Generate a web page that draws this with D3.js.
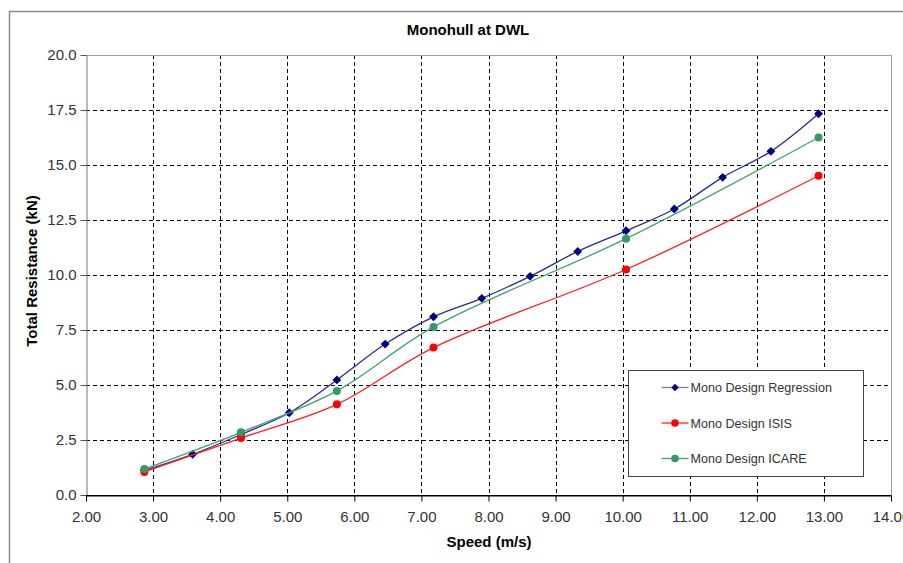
<!DOCTYPE html>
<html>
<head>
<meta charset="utf-8">
<script src="https://cdn.jsdelivr.net/npm/d3@7"></script>
<style>
	body { margin: 0; background: #fff; }
	svg { display: block; font-family: "Liberation Sans", Arial, sans-serif; }
</style>
</head>
<body>
<div id="chart"></div>
<script>
// speeds (m/s) and resistances (kN)
var regSpeed = [2.87, 3.59, 4.31, 5.03, 5.74, 6.46, 7.18, 7.90, 8.62, 9.33, 10.05, 10.77, 11.49, 12.21, 12.92];
var regRes   = [1.12, 1.85, 2.75, 3.74, 5.23, 6.86, 8.10, 8.94, 9.94, 11.07, 12.01, 13.00, 14.44, 15.62, 17.33];
var isisSpeed = [2.87, 4.31, 5.74, 7.18, 10.05, 12.92];
var isisRes   = [1.05, 2.59, 4.12, 6.70, 10.25, 14.51];
var icareSpeed = [2.87, 4.31, 5.74, 7.18, 10.05, 12.92];
var icareRes   = [1.18, 2.85, 4.73, 7.64, 11.65, 16.25];
var xTicks = [2, 3, 4, 5, 6, 7, 8, 9, 10, 11, 12, 13, 14];
var yTicks = [0, 2.5, 5, 7.5, 10, 12.5, 15, 17.5, 20];

var series = [
	{name: "Mono Design Regression", color: "#000080", line: "#2b2b8c", marker: "diamond", x: regSpeed, y: regRes},
	{name: "Mono Design ISIS", color: "#ff0000", line: "#ff2020", marker: "circle", x: isisSpeed, y: isisRes},
	{name: "Mono Design ICARE", color: "#339966", line: "#44a070", marker: "circle", x: icareSpeed, y: icareRes}
];

var W = 903, H = 563;
var plot = {left: 86, right: 891, top: 55, bottom: 495};

var svg = d3.select("#chart").append("svg")
	.attr("width", W)
	.attr("height", H);

// outer chart border (runs off the right and bottom edges)
svg.append("path")
	.attr("d", "M9.5," + H + "V11.5H" + W)
	.style("fill", "none")
	.style("stroke", "#8a8a8a")
	.style("stroke-width", 1.5);

var x = d3.scaleLinear().domain([2, 14]).range([plot.left, plot.right]);
var y = d3.scaleLinear().domain([0, 20]).range([plot.bottom, plot.top]);

// grid
var grid = svg.append("g").style("stroke", "#000").style("stroke-dasharray", "4,3").style("stroke-width", 1);
grid.selectAll(".gx")
		.data(xTicks.filter(function(d) { return d > 2 && d < 14; }))
	.enter().append("line")
		.attr("x1", function(d) { return Math.round(x(d)) + 0.5; })
		.attr("x2", function(d) { return Math.round(x(d)) + 0.5; })
		.attr("y1", plot.top)
		.attr("y2", plot.bottom);
grid.selectAll(".gy")
		.data(yTicks.filter(function(d) { return d > 0 && d < 20; }))
	.enter().append("line")
		.attr("y1", function(d) { return Math.round(y(d)) + 0.5; })
		.attr("y2", function(d) { return Math.round(y(d)) + 0.5; })
		.attr("x1", plot.left)
		.attr("x2", plot.right);

// plot area frame, top and right
svg.append("path")
	.attr("d", "M" + plot.left + "," + (plot.top + 0.5) + "H" + (plot.right + 0.5) + "V" + plot.bottom)
	.style("fill", "none")
	.style("stroke", "#a0a0a0");

// axes
var xAxis = svg.append("g")
	.attr("transform", "translate(0," + (plot.bottom + 0.5) + ")")
	.call(d3.axisBottom(x).tickValues(xTicks).tickSize(6).tickSizeOuter(0).tickPadding(10).tickFormat(d3.format(".2f")));
xAxis.select(".domain").style("stroke", "#000");
xAxis.selectAll("line").style("stroke", "#000");
xAxis.selectAll("text").style("font-size", "15px").style("fill", "#333");

var yAxis = svg.append("g")
	.attr("transform", "translate(" + (plot.left + 0.5) + ",0)")
	.call(d3.axisLeft(y).tickValues(yTicks).tickSize(6).tickSizeOuter(0).tickPadding(4).tickFormat(d3.format(".1f")));
yAxis.select(".domain").style("stroke", "#777");
yAxis.selectAll("line").style("stroke", "#555");
yAxis.selectAll("text").style("font-size", "15px").style("fill", "#333");

// redraw bottom axis line over the left one
svg.append("line")
	.attr("x1", plot.left).attr("x2", plot.right)
	.attr("y1", plot.bottom + 0.5).attr("y2", plot.bottom + 0.5)
	.style("stroke", "#000");

// lines
var line = d3.line()
	.x(function(d) { return x(d[0]); })
	.y(function(d) { return y(d[1]); })
	.curve(d3.curveCatmullRom.alpha(0.5));

var diamond = d3.symbol().type(d3.symbolDiamond2).size(50);

series.forEach(function(s) {
	var pts = s.x.map(function(v, i) { return [v, s.y[i]]; });
	svg.append("path")
		.datum(pts)
		.attr("d", line)
		.style("fill", "none")
		.style("stroke", s.line)
		.style("stroke-width", 1.3);
	var g = svg.append("g");
	if (s.marker == "diamond") {
		g.selectAll("path").data(pts).enter().append("path")
			.attr("d", diamond)
			.attr("transform", function(d) { return "translate(" + x(d[0]) + "," + y(d[1]) + ")"; })
			.style("fill", s.color);
	} else {
		g.selectAll("circle").data(pts).enter().append("circle")
			.attr("cx", function(d) { return x(d[0]); })
			.attr("cy", function(d) { return y(d[1]); })
			.attr("r", 4)
			.style("fill", s.color);
	}
});

// legend
var legend = svg.append("g").attr("transform", "translate(628.5,370.5)");
legend.append("rect")
	.attr("width", 235)
	.attr("height", 106)
	.style("fill", "#fff")
	.style("stroke", "#444");
var item = legend.selectAll(".item")
		.data(series)
	.enter().append("g")
		.attr("transform", function(d, i) { return "translate(0," + (17 + i * 35.5) + ")"; });
item.append("line")
	.attr("x1", 33).attr("x2", 60)
	.style("stroke", function(d) { return d.marker == "diamond" ? "#7b7bbd" : d.line; })
	.style("stroke-width", 1.3);
item.filter(function(d) { return d.marker == "diamond"; }).append("path")
	.attr("d", d3.symbol().type(d3.symbolDiamond2).size(36))
	.attr("transform", "translate(46.5,0)")
	.style("fill", function(d) { return d.color; });
item.filter(function(d) { return d.marker != "diamond"; }).append("circle")
	.attr("cx", 46.5)
	.attr("r", 3.8)
	.style("fill", function(d) { return d.color; });
item.append("text")
	.attr("x", 62)
	.attr("dy", "0.36em")
	.style("font-size", "12.6px")
	.style("fill", "#333")
	.text(function(d) { return d.name; });

// titles
svg.append("text")
	.attr("x", 468).attr("y", 35)
	.attr("text-anchor", "middle")
	.style("font-size", "15px").style("font-weight", "bold")
	.text("Monohull at DWL");
svg.append("text")
	.attr("x", 489).attr("y", 547)
	.attr("text-anchor", "middle")
	.style("font-size", "15px").style("font-weight", "bold")
	.text("Speed (m/s)");
svg.append("text")
	.attr("transform", "translate(37,271) rotate(-90)")
	.attr("text-anchor", "middle")
	.style("font-size", "15px").style("font-weight", "bold")
	.text("Total Resistance (kN)");
</script>
</body>
</html>
